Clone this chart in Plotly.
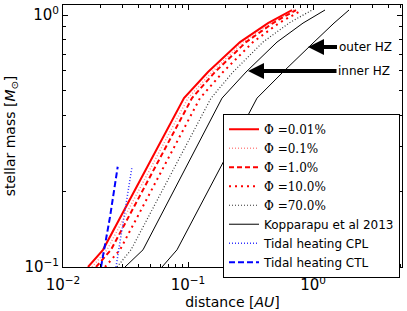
import numpy as np
import plotly.graph_objects as go

# stellar masses (M_sun) sampled along each curve
mass = [0.1, 0.117, 0.468, 0.594, 0.781, 0.929, 1.047]

# distances (AU) for each efficiency Phi
d_phi_001 = [0.01585, 0.02089, 0.0929, 0.1445, 0.2606, 0.4365, 0.6792]
d_phi_01 = [0.01706, 0.02249, 0.1000, 0.1556, 0.2754, 0.4613, 0.7047]
d_phi_1 = [0.01837, 0.02421, 0.1076, 0.1644, 0.2911, 0.4786, 0.7311]
d_phi_10 = [0.02168, 0.02858, 0.1247, 0.1905, 0.3311, 0.5346, 0.8166]
d_phi_70 = [0.02704, 0.03499, 0.1528, 0.2291, 0.3981, 0.6427, 0.9817]

# Kopparapu et al 2013 habitable zone edges
d_hz_inner = [0.03133, 0.04365, 0.1871, 0.2911, 0.5152, 0.8318, 1.247]
d_hz_outer = [0.06194, 0.08166, 0.3565, 0.5754, 1.0186, 1.472, 1.941]

# tidal heating limits
mass_tidal = [0.1, 0.158, 0.25]
d_cpl = [0.02655, 0.03076, 0.03565]
d_ctl = [0.02014, 0.02377, 0.02739]

serif = "font-family:'DejaVu Serif'"
series = [
    (d_phi_001, mass, f"<span style=\"{serif}\">Φ =0.01%</span>", dict(color="red", width=2, dash="solid")),
    (d_phi_01, mass, f"<span style=\"{serif}\">Φ =0.1%</span>", dict(color="rgba(255,60,60,0.6)", width=1.5, dash="1px,2px")),
    (d_phi_1, mass, f"<span style=\"{serif}\">Φ =1.0%</span>", dict(color="red", width=2, dash="5px,3px")),
    (d_phi_10, mass, f"<span style=\"{serif}\">Φ =10.0%</span>", dict(color="red", width=2, dash="2px,4px")),
    (d_phi_70, mass, f"<span style=\"{serif}\">Φ =70.0%</span>", dict(color="#333333", width=1.2, dash="1px,2px")),
    (d_hz_inner, mass, "Kopparapu et al 2013", dict(color="black", width=1, dash="solid")),
    (d_cpl, mass_tidal, "Tidal heating CPL", dict(color="#3333ff", width=1.5, dash="1px,2px")),
    (d_ctl, mass_tidal, "Tidal heating CTL", dict(color="blue", width=2, dash="6px,3px")),
]

fig = go.Figure()
for x, y, name, line in series:
    fig.add_trace(go.Scatter(x=x, y=y, mode="lines", name=name, line=line))
fig.add_trace(go.Scatter(x=d_hz_outer, y=mass, mode="lines", showlegend=False,
                         line=dict(color="black", width=1)))

minor_x = [k * 10.0 ** e for e in (-2, -1) for k in range(2, 10)] + [2, 3, 4, 5]
minor_y = [k * 0.1 for k in range(2, 10)]

axis_common = dict(showline=True, linecolor="black", linewidth=1, mirror="allticks",
                   ticks="inside", ticklen=5, tickcolor="black", showgrid=False,
                   zeroline=False, automargin=False,
                   tickfont=dict(size=15, color="black"))

fig.update_xaxes(type="log", range=[-2, np.log10(5.15)],
                 tickvals=[0.01, 0.1, 1], ticktext=["10<sup>−2</sup>", "10<sup>−1</sup>", "10<sup>0</sup>"],
                 minor=dict(tickvals=minor_x, ticks="inside", ticklen=3, tickcolor="black"),
                 ticklabelstandoff=4,
                 title=dict(text="distance [<i>AU</i>]", font=dict(size=14, color="black"), standoff=0),
                 **axis_common)
fig.update_yaxes(type="log", range=[-1, np.log10(1.096)],
                 tickvals=[0.1, 1], ticktext=["10<sup>−1</sup>", "10<sup>0</sup>"],
                 minor=dict(tickvals=minor_y, ticks="inside", ticklen=3, tickcolor="black"),
                 title=dict(text="stellar mass [<i>M</i><sub>⊙</sub>]", font=dict(size=14, color="black"), standoff=5),
                 **axis_common)

arrow = dict(xref="x", yref="y", axref="pixel", ayref="pixel", showarrow=True,
             arrowhead=2, arrowsize=0.8, arrowwidth=4, arrowcolor="black",
             font=dict(size=12, color="black"), ay=0)
fig.add_annotation(x=np.log10(0.912), y=np.log10(0.746), text="outer HZ", ax=57, **arrow)
fig.add_annotation(x=np.log10(0.302), y=np.log10(0.600), text="inner HZ", ax=116, **arrow)

fig.update_layout(
    width=407, height=311,
    margin=dict(l=63, r=5, t=5, b=44),
    paper_bgcolor="white", plot_bgcolor="white",
    font=dict(family="DejaVu Sans", size=12, color="black"),
    legend=dict(x=0.472, y=0.585, xanchor="left", yanchor="top",
                bordercolor="black", borderwidth=1, bgcolor="white",
                font=dict(size=12), tracegroupgap=0),
)

fig.write_html("out.html", config={"displayModeBar": False},
               post_script="document.body.style.margin='0';")
